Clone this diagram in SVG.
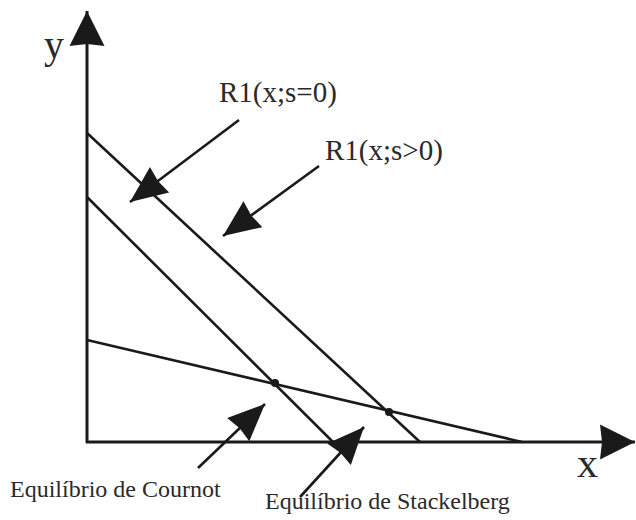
<svg xmlns="http://www.w3.org/2000/svg" width="636" height="520" viewBox="0 0 636 520">
<defs>
<style>
.ax{stroke:#1a1a1a;stroke-width:3;fill:none}
.ln{stroke:#1a1a1a;stroke-width:2.6;fill:none}
.t{font-family:"Liberation Serif","Times New Roman",serif;fill:#2a2a2a}
</style>
<marker id="ah" markerUnits="userSpaceOnUse" markerWidth="42" markerHeight="40" viewBox="-40 -20 42 40" refX="0" refY="0" orient="auto">
<path d="M0,0 L-37,-16 L-35,0 L-37,16 Z" fill="#1a1a1a"/>
</marker>
<marker id="axh" markerUnits="userSpaceOnUse" markerWidth="42" markerHeight="40" viewBox="-40 -20 42 40" refX="0" refY="0" orient="auto">
<path d="M0,0 L-35,-17.5 L-33,0 L-35,17.5 Z" fill="#1a1a1a"/>
</marker>
</defs>
<rect width="636" height="520" fill="#fff"/>
<g id="axes">
<line class="ax" x1="87" y1="443" x2="87" y2="11" marker-end="url(#axh)"/>
<line class="ax" x1="86" y1="442" x2="635" y2="442" marker-end="url(#axh)"/>
</g>
<g id="curves">
<line class="ln" x1="87" y1="133" x2="420" y2="442"/>
<line class="ln" x1="87" y1="197" x2="333" y2="442"/>
<line class="ln" x1="87" y1="340" x2="522" y2="442"/>
</g>
<g id="points">
<circle cx="275" cy="383" r="4" fill="#1a1a1a"/>
<circle cx="389" cy="412" r="4" fill="#1a1a1a"/>
</g>
<g id="connectors">
<line class="ln" x1="239" y1="120" x2="130" y2="202" marker-end="url(#ah)"/>
<line class="ln" x1="319" y1="166" x2="223" y2="236" marker-end="url(#ah)"/>
<line class="ln" x1="198" y1="468" x2="265" y2="404" marker-end="url(#ah)"/>
<line class="ln" x1="300" y1="497" x2="364" y2="427" marker-end="url(#ah)"/>
</g>
<g id="labels">
<text class="t" x="44" y="58" font-size="40">y</text>
<text class="t" x="577" y="477" font-size="42">x</text>
<text class="t" x="219" y="102" font-size="29">R1(x;s=0)</text>
<text class="t" x="325" y="160" font-size="29">R1(x;s&gt;0)</text>
<text class="t" x="10" y="497" font-size="24">Equilíbrio de Cournot</text>
<text class="t" x="265" y="509" font-size="24">Equilíbrio de Stackelberg</text>
</g>
</svg>
